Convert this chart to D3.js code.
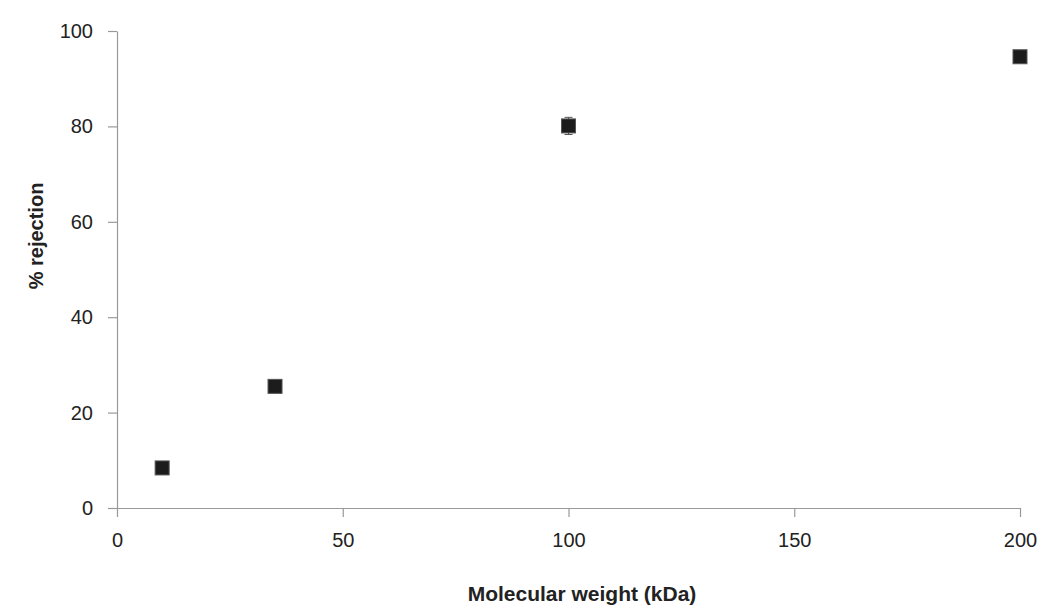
<!DOCTYPE html>
<html>
<head>
<meta charset="utf-8">
<script src="https://cdn.jsdelivr.net/npm/d3@7"></script>
<style>
  body { margin: 0; background: #fff; }
  svg text { font-family: "Liberation Sans", Arial, sans-serif; fill: #222; }
</style>
</head>
<body>
<div id="chart"></div>
<script>
// values
const molWeight = [10, 35, 100, 200];
const rejection = [8.4, 25.5, 80.1, 94.6];
const rejErr = [1.3, 0.8, 1.8, 0.8];
const xTicks = [0, 50, 100, 150, 200];
const yTicks = [0, 20, 40, 60, 80, 100];

const width = 1047;
const height = 608;

const svg = d3
  .select("#chart")
  .append("svg")
  .attr("width", width)
  .attr("height", height);

const x = d3.scaleLinear().domain([0, 200]).range([117, 1020]);
const y = d3.scaleLinear().domain([0, 100]).range([508, 31]);

// axes
const xAxis = svg
  .append("g")
  .attr("transform", `translate(0, ${y(0)})`)
  .call(d3.axisBottom(x).tickValues(xTicks).tickSize(9).tickSizeOuter(0).tickPadding(16));

const yAxis = svg
  .append("g")
  .attr("transform", `translate(${x(0)}, 0)`)
  .call(d3.axisLeft(y).tickValues(yTicks).tickSize(9).tickSizeOuter(0).tickPadding(15));

[xAxis, yAxis].forEach((g) => {
  g.select(".domain").attr("stroke", "#999").attr("stroke-width", 1.2);
  g.selectAll(".tick line").attr("stroke", "#999").attr("stroke-width", 1.2);
  g.selectAll(".tick text").style("font-size", "20px").attr("fill", "#222");
});

// error bars
const pts = molWeight.map((m, i) => ({ m, r: rejection[i], e: rejErr[i] }));

svg
  .selectAll(".err")
  .data(pts)
  .enter()
  .append("line")
  .attr("class", "err")
  .attr("x1", (d) => x(d.m))
  .attr("x2", (d) => x(d.m))
  .attr("y1", (d) => y(d.r + d.e))
  .attr("y2", (d) => y(d.r - d.e))
  .attr("stroke", "#444")
  .attr("stroke-width", 1);

svg
  .selectAll(".cap")
  .data(pts.flatMap((d) => [{ m: d.m, v: d.r + d.e }, { m: d.m, v: d.r - d.e }]))
  .enter()
  .append("line")
  .attr("class", "cap")
  .attr("x1", (d) => x(d.m) - 4)
  .attr("x2", (d) => x(d.m) + 4)
  .attr("y1", (d) => y(d.v))
  .attr("y2", (d) => y(d.v))
  .attr("stroke", "#555")
  .attr("stroke-width", 1);

// markers
const size = 14;
svg
  .selectAll(".pt")
  .data(pts)
  .enter()
  .append("rect")
  .attr("class", "pt")
  .attr("x", (d) => x(d.m) - size / 2)
  .attr("y", (d) => y(d.r) - size / 2)
  .attr("width", size)
  .attr("height", size)
  .attr("fill", "#1c1c1c")
  .attr("stroke", "#555")
  .attr("stroke-width", 1);

// axis titles
svg
  .append("text")
  .attr("x", 582)
  .attr("y", 601)
  .attr("text-anchor", "middle")
  .style("font-size", "21px")
  .style("font-weight", "bold")
  .text("Molecular weight (kDa)");

svg
  .append("text")
  .attr("transform", "translate(43, 236) rotate(-90)")
  .attr("text-anchor", "middle")
  .style("font-size", "20px")
  .style("font-weight", "bold")
  .text("% rejection");
</script>
</body>
</html>
